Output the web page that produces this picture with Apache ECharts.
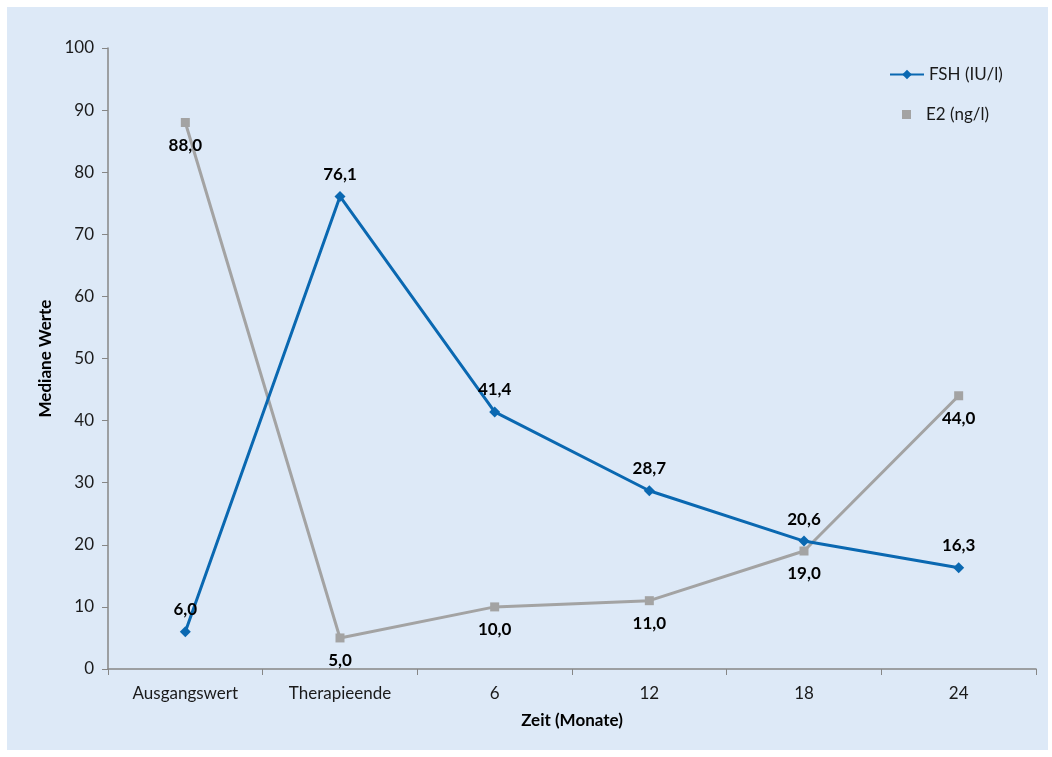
<!DOCTYPE html>
<html>
<head>
<meta charset="utf-8">
<script src="https://cdn.jsdelivr.net/npm/echarts@6/dist/echarts.min.js"></script>
<style>
  html, body { margin: 0; padding: 0; background: #fff; }
  #chart { width: 1052px; height: 757px; }
</style>
</head>
<body>
<div id="chart"></div>
<script>
// data
const categories = ['Ausgangswert', 'Therapieende', '6', '12', '18', '24']
const fsh = [6.0, 76.1, 41.4, 28.7, 20.6, 16.3]
const e2 = [88.0, 5.0, 10.0, 11.0, 19.0, 44.0]
const yTicks = { min: 0, max: 100, interval: 10 }

const FONT = 'Lato, "Open Sans", sans-serif'
const fmt = p => p.value.toFixed(1).replace('.', ',')

const chart = echarts.init(document.getElementById('chart'))
chart.setOption({
  animation: false,
  backgroundColor: '#ffffff',
  graphic: [{
    type: 'rect', z: -10, silent: true,
    shape: { x: 7, y: 7, width: 1041, height: 743 },
    style: { fill: '#dde9f7' }
  }],
  grid: { left: 108, right: 16, top: 48, bottom: 88 },
  legend: [
    {
      data: ['FSH (IU/l)'],
      left: 884, top: 61,
      itemWidth: 34, itemHeight: 12,
      textStyle: { fontFamily: FONT, fontSize: 17, color: '#1a1a1a' }
    },
    {
      data: [{ name: 'E2 (ng/l)', icon: 'rect' }],
      left: 897, top: 101,
      itemWidth: 9, itemHeight: 9,
      textStyle: { fontFamily: FONT, fontSize: 17, color: '#1a1a1a', padding: [0, 0, 0, 10] }
    }
  ],
  xAxis: {
    type: 'category',
    data: categories,
    name: 'Zeit (Monate)',
    nameLocation: 'middle',
    nameGap: 43,
    nameTextStyle: { fontFamily: FONT, fontSize: 17, fontWeight: 'bold', color: '#000' },
    axisLine: { lineStyle: { color: '#868686', width: 1.5 } },
    axisTick: { show: true, length: 6, lineStyle: { color: '#868686' } },
    axisLabel: { fontFamily: FONT, fontSize: 17, color: '#1a1a1a', margin: 16 },
    splitLine: { show: false }
  },
  yAxis: {
    type: 'value',
    min: yTicks.min, max: yTicks.max, interval: yTicks.interval,
    name: 'Mediane Werte',
    nameLocation: 'middle',
    nameGap: 54,
    nameTextStyle: { fontFamily: FONT, fontSize: 17, fontWeight: 'bold', color: '#000' },
    axisLine: { show: true, lineStyle: { color: '#868686', width: 1.5 } },
    axisTick: { show: true, length: 6, lineStyle: { color: '#868686' } },
    axisLabel: { fontFamily: FONT, fontSize: 17, color: '#1a1a1a', margin: 14 },
    splitLine: { show: false }
  },
  series: [
    {
      name: 'FSH (IU/l)',
      type: 'line',
      data: fsh,
      symbol: 'diamond',
      symbolSize: 11,
      color: '#0a68b1',
      lineStyle: { width: 3 },
      label: {
        show: true, position: 'top', distance: 8, formatter: fmt,
        fontFamily: FONT, fontSize: 17, fontWeight: 'bold', color: '#000'
      },
      z: 3
    },
    {
      name: 'E2 (ng/l)',
      type: 'line',
      data: e2,
      symbol: 'rect',
      symbolSize: 9,
      color: '#a3a3a3',
      lineStyle: { width: 3 },
      label: {
        show: true, position: 'bottom', distance: 10, formatter: fmt,
        fontFamily: FONT, fontSize: 17, fontWeight: 'bold', color: '#000'
      },
      z: 2
    }
  ]
})
</script>
</body>
</html>
